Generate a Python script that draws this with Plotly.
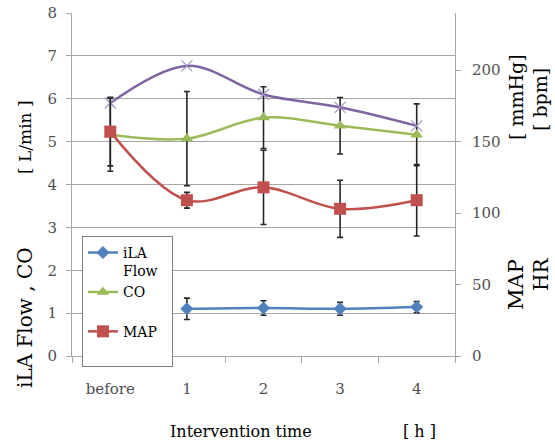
import plotly.graph_objects as go

categories = ["before", "1", "2", "3", "4"]
ila_flow = [None, 1.10, 1.12, 1.10, 1.14]
ila_flow_sd = [0, 0.25, 0.17, 0.15, 0.13]
co = [5.16, 5.07, 5.56, 5.37, 5.16]
co_sd = [0.85, 1.1, 0.72, 0.66, 0.72]
map_vals = [157, 109, 118, 103, 109]
map_sd = [24, 5.5, 26, 20, 25]
hr = [177, 203, 183, 174, 161]

left_ticks = [0, 1, 2, 3, 4, 5, 6, 7, 8]
right_ticks = [0, 50, 100, 150, 200]

FONT = "DejaVu Serif, serif"
ERR = dict(type="data", thickness=1.6, width=3, color="#262626")

fig = go.Figure()
fig.add_trace(go.Scatter(
    x=categories, y=hr, yaxis="y2", name="HR", showlegend=False,
    mode="lines+markers", line=dict(color="#8064A2", width=2.5, shape="spline"),
    marker=dict(symbol="x-thin-open", size=11, color="#A28FC4", line=dict(width=1.2, color="#A28FC4")),
))
fig.add_trace(go.Scatter(
    x=categories, y=co, name="CO<br> ", legendrank=2,
    mode="lines+markers", line=dict(color="#9BBB59", width=2.5, shape="spline"),
    marker=dict(symbol="triangle-up", size=11, color="#9BBB59"),
    error_y=dict(array=co_sd, **ERR),
))
fig.add_trace(go.Scatter(
    x=categories, y=map_vals, yaxis="y2", name="MAP<br> ", legendrank=3,
    mode="lines+markers", line=dict(color="#C0504D", width=2.5, shape="spline"),
    marker=dict(symbol="square", size=12, color="#C0504D"),
    error_y=dict(array=map_sd, **ERR),
))
fig.add_trace(go.Scatter(
    x=categories, y=ila_flow, name="iLA<br>Flow&nbsp;&nbsp;", legendrank=1,
    mode="lines+markers", line=dict(color="#4F81BD", width=2.5, shape="spline"),
    marker=dict(symbol="diamond", size=10, color="#4F81BD"),
    error_y=dict(array=ila_flow_sd, **ERR),
))

AX = dict(showline=True, linecolor="#A6A6A6", linewidth=1, ticks="outside", automargin=False,
          tickcolor="#A6A6A6", tickfont=dict(family=FONT, size=15, color="#505050"))

fig.update_layout(
    width=555, height=441,
    margin=dict(l=72, r=100, t=13, b=85, autoexpand=False),
    paper_bgcolor="white", plot_bgcolor="white",
    font=dict(family=FONT, color="#000000"),
    xaxis=dict(type="category", categoryorder="array", categoryarray=categories,
               range=[-0.5, 4.5], tickson="boundaries", ticklen=6, showgrid=False,
               ticklabelstandoff=19, **AX),
    yaxis=dict(range=[0, 8], tickvals=left_ticks, ticklen=5, showgrid=True,
               gridcolor="#A6A6A6", gridwidth=1, zeroline=False, ticklabelstandoff=6, **AX),
    yaxis2=dict(range=[0, 240], tickvals=right_ticks, overlaying="y", side="right",
                ticklen=5, showgrid=False, zeroline=False, ticklabelstandoff=8, **AX),
    legend=dict(x=0.026, y=0.35, xanchor="left", yanchor="top", bgcolor="white",
                bordercolor="#7F7F7F", borderwidth=1, valign="top",
                traceorder="normal",
                font=dict(family=FONT, size=14, color="#000000")),
    showlegend=True,
)

ann = [
    dict(text="[ L/min ]", x=25, y=137, size=17),
    dict(text="iLA Flow , CO", x=25, y=318, size=20),
    dict(text="[ mmHg]", x=516, y=97, size=19),
    dict(text="[ bpm]", x=540, y=100, size=19),
    dict(text="MAP", x=516, y=285, size=21),
    dict(text="HR", x=541, y=275, size=20),
]
for a in ann:
    fig.add_annotation(text=a["text"], xref="paper", yref="paper",
                       x=(a["x"] - 72) / 383, y=(356 - a["y"]) / 343,
                       xanchor="center", yanchor="middle", showarrow=False,
                       textangle=-90, font=dict(family=FONT, size=a["size"], color="#000000"))
for t, x in [("Intervention time", 241), ("[ h ]", 419)]:
    fig.add_annotation(text=t, xref="paper", yref="paper",
                       x=(x - 72) / 383, y=(356 - 431) / 343,
                       xanchor="center", yanchor="middle", showarrow=False,
                       font=dict(family=FONT, size=16, color="#000000"))

fig.write_html("out.html")
